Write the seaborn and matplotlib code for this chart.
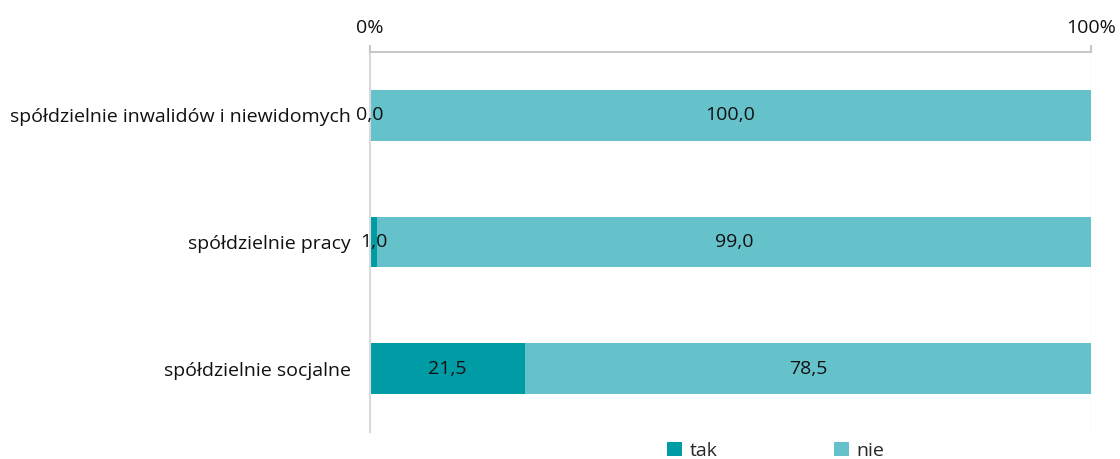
import matplotlib
matplotlib.use("Agg")
import matplotlib.pyplot as plt
import seaborn as sns
import pandas as pd
from matplotlib.patches import Patch

categories = ["spółdzielnie inwalidów i niewidomych", "spółdzielnie pracy", "spółdzielnie socjalne"]
tak = [0.0, 1.0, 21.5]
nie = [100.0, 99.0, 78.5]
series_names = ["tak", "nie"]
xtick_labels = ["0%", "100%"]

c_tak = "#009ca6"
c_nie = "#66c2ca"

sns.set_theme(style="white")
plt.rcParams["font.family"] = ["Open Sans", "DejaVu Sans"]

fs = 14

fig = plt.figure(figsize=(11.2, 4.59), dpi=100)
ax = fig.add_axes([370/1120, 1-432/459, (1091-370)/1120, (432-52)/459])

df = pd.DataFrame({"cat": categories, "tak": tak, "nie": nie})
df["total"] = df["tak"] + df["nie"]

sns.barplot(data=df, y="cat", x="total", color=c_nie, width=0.4, ax=ax, orient="h", saturation=1, edgecolor="none")
sns.barplot(data=df, y="cat", x="tak", color=c_tak, width=0.4, ax=ax, orient="h", saturation=1, edgecolor="none")

def fmt(v):
    return f"{v:.1f}".replace(".", ",")

for i, (t, n) in enumerate(zip(tak, nie)):
    ax.text(t / 2, i, fmt(t), ha="center", va="center", fontsize=fs, color="#111111")
    ax.text(t + n / 2, i, fmt(n), ha="center", va="center", fontsize=fs, color="#111111")

ax.set_xlim(0, 100)
ax.set_ylim(2.5, -0.5)
ax.xaxis.tick_top()
ax.set_xticks([0, 100])
ax.set_xticklabels(xtick_labels, fontsize=fs, color="#111111")
ax.tick_params(axis="x", length=5, width=1.5, color="#c8c8c8", pad=6, top=True, bottom=False)
ax.tick_params(axis="y", length=0, labelsize=fs, labelcolor="#111111", pad=14)
ax.set_xlabel("")
ax.set_ylabel("")
for s in ["right", "bottom"]:
    ax.spines[s].set_visible(False)
ax.spines["top"].set_color("#c8c8c8")
ax.spines["top"].set_linewidth(1.5)
ax.spines["left"].set_color("#d9d9d9")
ax.spines["left"].set_linewidth(1.5)
ax.axvline(100, color="#eeeeee", lw=1, zorder=0)

handles = [Patch(facecolor=c_tak, edgecolor="none"), Patch(facecolor=c_nie, edgecolor="none")]
fig.legend(handles, series_names, loc="center", bbox_to_anchor=(776/1120, 1-451/459), ncol=2,
           frameon=False, fontsize=fs, handlelength=0.75, handleheight=0.75, columnspacing=6.0, handletextpad=0.4)

fig.savefig("out.png", dpi=100)
